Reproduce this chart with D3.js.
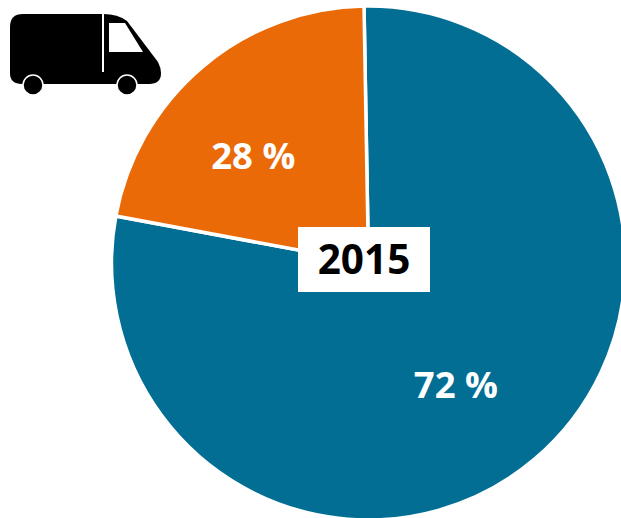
<!DOCTYPE html>
<html>
<head>
<meta charset="utf-8">
<script src="https://cdn.jsdelivr.net/npm/d3@7"></script>
<style>
html, body { margin: 0; padding: 0; background: #fff; overflow: hidden; }
svg { display: block; }
text { font-family: "Open Sans", sans-serif; font-weight: 700; }
</style>
</head>
<body>
<div id="chart"></div>
<script>
// slice sizes as drawn in the picture, labels as printed on it
var categories = ["blue", "orange"];
var shares = [78.2, 21.8];
var labels = ["72 %", "28 %"];
var colors = ["#026e94", "#eb6a08"];
var year = "2015";

var width = 621, height = 518;
var cx = 368.5, cy = 263, radius = 257;
var startDeg = -1;

var svg = d3.select("#chart").append("svg")
	.attr("width", width)
	.attr("height", height);

var pie = d3.pie().sort(null)
	.startAngle(startDeg * Math.PI / 180)
	.endAngle((360 + startDeg) * Math.PI / 180);
var arc = d3.arc().innerRadius(0).outerRadius(radius);

var slices = pie(shares);

var g = svg.append("g").attr("transform", "translate(" + cx + "," + cy + ")");

g.selectAll("path")
	.data(slices)
	.enter().append("path")
		.attr("d", arc)
		.attr("fill", function(d, i) { return colors[i]; })
		.attr("stroke", "#fff")
		.attr("stroke-width", 3.5);

// labels sit at a radius along the mid angle, then a nudge to match the picture
var labelRadius = [150, 156];
var nudge = [[-9.5, 7.5], [-14.5, 12.5]];

g.selectAll(".pct")
	.data(slices)
	.enter().append("text")
		.attr("class", "pct")
		.attr("transform", function(d, i) {
			var p = d3.pointRadial((d.startAngle + d.endAngle) / 2, labelRadius[i]);
			return "translate(" + (p[0] + nudge[i][0]) + "," + (p[1] + nudge[i][1]) + ")";
		})
		.attr("text-anchor", "middle")
		.attr("dy", "0.35em")
		.attr("font-size", 36.5)
		.attr("fill", "#fff")
		.text(function(d, i) { return labels[i]; });

// year box
svg.append("rect")
	.attr("x", 298).attr("y", 227)
	.attr("width", 132).attr("height", 65)
	.attr("fill", "#fff");
svg.append("text")
	.attr("x", 364).attr("y", 274)
	.attr("text-anchor", "middle")
	.attr("font-size", 40.5)
	.attr("fill", "#000")
	.text(year);

// van icon
var van = svg.append("g");
van.append("path")
	.attr("d", "M10 27 Q10 14 23 14 L103 14 Q118 14 127 21 L158 62 Q161 68 161 73 Q161 84 149 84 L22 84 Q10 84 10 73 Z")
	.attr("fill", "#000");
van.append("path")
	.attr("d", "M109 23 L125 23 L143 52 L109 52 Z")
	.attr("fill", "#fff");
van.append("line")
	.attr("x1", 103).attr("x2", 103)
	.attr("y1", 5).attr("y2", 72)
	.attr("stroke", "#fff").attr("stroke-width", 2);
[33, 127].forEach(function(x) {
	van.append("circle")
		.attr("cx", x).attr("cy", 85).attr("r", 10)
		.attr("fill", "#000")
		.attr("stroke", "#fff").attr("stroke-width", 1.5);
});
</script>
</body>
</html>
